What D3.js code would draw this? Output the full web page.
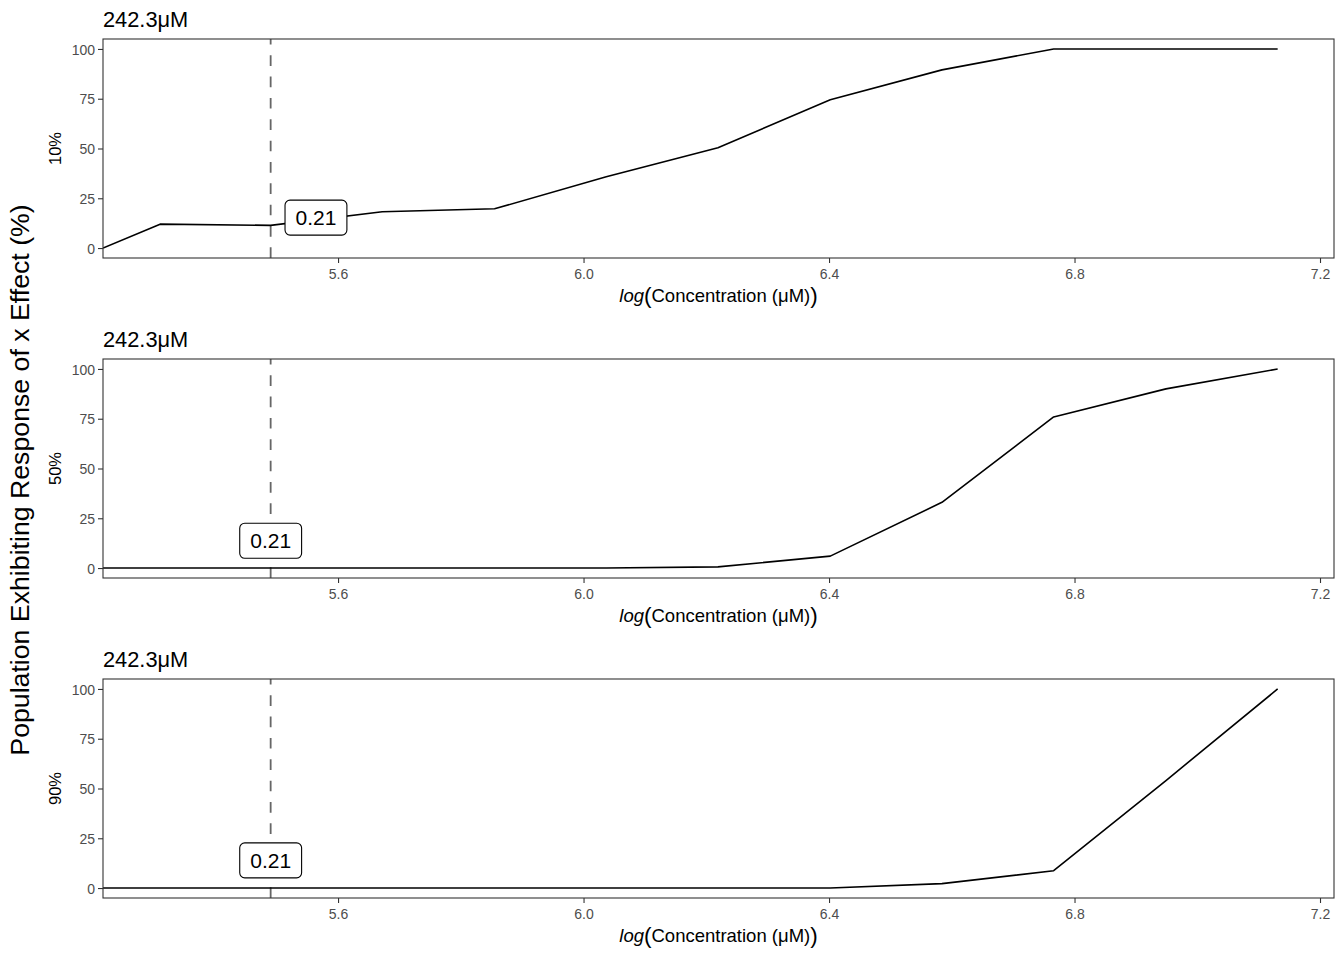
<!DOCTYPE html>
<html>
<head>
<meta charset="utf-8">
<script src="https://cdn.jsdelivr.net/npm/d3@7"></script>
<style>
  html, body { margin: 0; padding: 0; background: #fff; }
  text { font-family: "Liberation Sans", Arial, Helvetica, sans-serif; }
</style>
</head>
<body>
<svg id="chart" width="1344" height="960"></svg>
<script>
// ---- data ----
const logConc = [5.217, 5.310, 5.490, 5.672, 5.855, 6.037, 6.219, 6.402, 6.584, 6.766, 6.949, 7.131];
const resp10 = [0, 12.0, 11.4, 18.2, 19.7, 35.8, 50.4, 74.5, 89.5, 100, 100, 100];
const resp50 = [0, 0, 0, 0, 0, 0, 0.6, 6.0, 33.0, 75.9, 90.0, 100];
const resp90 = [0, 0, 0, 0, 0, 0, 0, 0, 2.2, 8.7, 54.0, 100];
const seriesNames = ["10%", "50%", "90%"];
const seriesValues = [resp10, resp50, resp90];
const panelTitles = ["242.3\u03BCM", "242.3\u03BCM", "242.3\u03BCM"];
const vlineConc = 242.3;
const labelText = ["0.21", "0.21", "0.21"];
const labelX = [5.564, 5.4902, 5.4902];
const labelY = [15.3, 13.7, 13.9];
const xTicks = [5.6, 6.0, 6.4, 6.8, 7.2];
const yTicks = [0, 25, 50, 75, 100];
const xDomain = [5.217, 7.2228];
const yDomain = [-5, 105];

// ---- layout ----
const svg = d3.select("#chart");
const left = 103, right = 1334;
const panelH = 219, panelStep = 320, firstTop = 39;

const x = d3.scaleLinear().domain(xDomain).range([left, right]);

svg.append("text")
  .attr("transform", `translate(29,480) rotate(-90)`)
  .attr("text-anchor", "middle")
  .attr("font-size", 26.7)
  .attr("fill", "#000")
  .text("Population Exhibiting Response of x Effect (%)");

seriesValues.forEach((vals, i) => {
  const top = firstTop + panelStep * i;
  const bottom = top + panelH;
  const y = d3.scaleLinear().domain(yDomain).range([bottom, top]);
  const g = svg.append("g");

  const clipId = "clip" + i;
  g.append("clipPath").attr("id", clipId)
    .append("rect").attr("x", left).attr("y", top).attr("width", right - left).attr("height", panelH);

  const plot = g.append("g").attr("clip-path", `url(#${clipId})`);

  // dashed vline, drawn from bottom to top
  const vx = x(Math.log(vlineConc));
  plot.append("line")
    .attr("x1", vx).attr("x2", vx)
    .attr("y1", bottom).attr("y2", top)
    .attr("stroke", "#666")
    .attr("stroke-width", 1.8)
    .attr("stroke-dasharray", "10.67 10.67");

  // data line
  const line = d3.line().x((d, k) => x(logConc[k])).y(d => y(d));
  plot.append("path")
    .datum(vals)
    .attr("d", line)
    .attr("fill", "none")
    .attr("stroke", "#000")
    .attr("stroke-width", 1.6)
    .attr("stroke-linejoin", "round");

  // label
  const lx = x(labelX[i]), ly = y(labelY[i]);
  const lg = plot.append("g");
  const t = lg.append("text")
    .attr("x", lx).attr("y", ly)
    .attr("text-anchor", "middle")
    .attr("dominant-baseline", "central")
    .attr("font-size", 21)
    .attr("fill", "#000")
    .text(labelText[i]);
  const bb = t.node().getBBox();
  const padX = 10.5, bw = bb.width + 2 * padX, bh = 35;
  lg.insert("rect", "text")
    .attr("x", lx - bw / 2).attr("y", ly - bh / 2)
    .attr("width", bw).attr("height", bh)
    .attr("rx", 5).attr("ry", 5)
    .attr("fill", "#fff")
    .attr("stroke", "#000")
    .attr("stroke-width", 1.1);

  // border
  g.append("rect")
    .attr("x", left).attr("y", top).attr("width", right - left).attr("height", panelH)
    .attr("fill", "none").attr("stroke", "#333").attr("stroke-width", 1.1);

  // axes
  const xAxis = d3.axisBottom(x).tickValues(xTicks).tickFormat(d3.format(".1f")).tickSize(5).tickPadding(3);
  const xa = g.append("g").attr("transform", `translate(0,${bottom})`).call(xAxis);
  const yAxis = d3.axisLeft(y).tickValues(yTicks).tickSize(5).tickPadding(3);
  const ya = g.append("g").attr("transform", `translate(${left},0)`).call(yAxis);
  [xa, ya].forEach(a => {
    a.select(".domain").remove();
    a.selectAll(".tick line").attr("stroke", "#333").attr("stroke-width", 1.1);
    a.selectAll(".tick text").attr("fill", "#4d4d4d").attr("font-size", 14)
      .attr("font-family", "Liberation Sans, Arial, sans-serif");
  });
  xa.selectAll(".tick text").attr("dy", "0.9em");
  ya.selectAll(".tick text").attr("dy", "0.36em");

  // panel title
  g.append("text")
    .attr("x", left).attr("y", top - 12.5)
    .attr("font-size", 21.8)
    .attr("fill", "#000")
    .text(panelTitles[i]);

  // y axis title
  g.append("text")
    .attr("transform", `translate(60.5,${(top + bottom) / 2}) rotate(-90)`)
    .attr("text-anchor", "middle")
    .attr("font-size", 16.5)
    .attr("fill", "#000")
    .text(seriesNames[i]);

  // x axis title
  const xt = g.append("text")
    .attr("x", (left + right) / 2).attr("y", bottom + 44)
    .attr("text-anchor", "middle")
    .attr("font-size", 18.5)
    .attr("fill", "#000");
  xt.append("tspan").attr("font-style", "italic").text("log");
  xt.append("tspan").attr("font-size", 22.5).attr("dy", 1).text("(");
  xt.append("tspan").attr("dy", -1).text("Concentration (\u03BCM)");
  xt.append("tspan").attr("font-size", 22.5).attr("dy", 1).text(")");
});
</script>
</body>
</html>
